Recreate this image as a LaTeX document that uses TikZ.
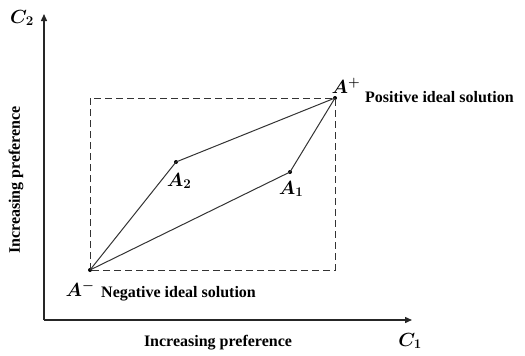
\documentclass[tikz,border=0pt]{standalone}
\usepackage{fix-cm}
\usepackage{amsmath}
\usepackage{fontspec}
\setmainfont{Liberation Serif}
\usetikzlibrary{positioning, arrows.meta}

\begin{document}
\begin{tikzpicture}[
  x=1pt, y=-1pt,
  font=\fontsize{16}{18}\selectfont\bfseries,
  axis/.style ={-{Triangle[length=7pt, width=6pt]}, line width=1.4pt, black!85},
  bound/.style={semithick, black!80, dash pattern=on 7pt off 4pt},
  link/.style ={line width=1pt, black!80},
  pt/.style   ={circle, fill=black, inner sep=0pt, minimum size=4pt},
  lbl/.style  ={inner sep=1pt},
  mlbl/.style ={inner sep=1pt, font=\fontsize{19}{21}\selectfont},
]
\useasboundingbox (0,0) rectangle (525,356);
% axes
\coordinate (o) at (44,320);
\coordinate (xend) at (412,320);
\coordinate (yend) at (44,14);
\draw[axis] (o) -- (xend);
\draw[axis] (o) -- (yend);
\node[mlbl] (c1) at (410,341) {$\boldsymbol{C_1}$};
\node[mlbl] (c2) at (22,18) {$\boldsymbol{C_2}$};
\node[lbl] (xlab) at (218,343) {Increasing preference};
\node[lbl, rotate=90] (ylab) at (16,180) {Increasing preference};
% alternatives
\node[pt] (aneg) at (90,270) {};
\node[pt] (apos) at (335,98) {};
\node[pt] (a2) at (176,162) {};
\node[pt] (a1) at (290,172) {};
\draw[bound] (aneg.center) rectangle (apos.center);
\foreach \a/\b in {aneg/a2, a2/apos, aneg/a1, a1/apos}
  \draw[link] (\a.center) -- (\b.center);
% labels
\node[mlbl] (la2) at (179,181) {$\boldsymbol{A_2}$};
\node[mlbl] (la1) at (291,189) {$\boldsymbol{A_1}$};
\node[mlbl] (lapos) at (346,86) {$\boldsymbol{A^+}$};
\node[lbl, anchor=west] (tpos) at (364,97) {Positive ideal solution};
\node[mlbl] (laneg) at (80,289) {$\boldsymbol{A^-}$};
\node[lbl, anchor=west] (tneg) at (100,294) {Negative ideal solution};
\end{tikzpicture}
\end{document}
